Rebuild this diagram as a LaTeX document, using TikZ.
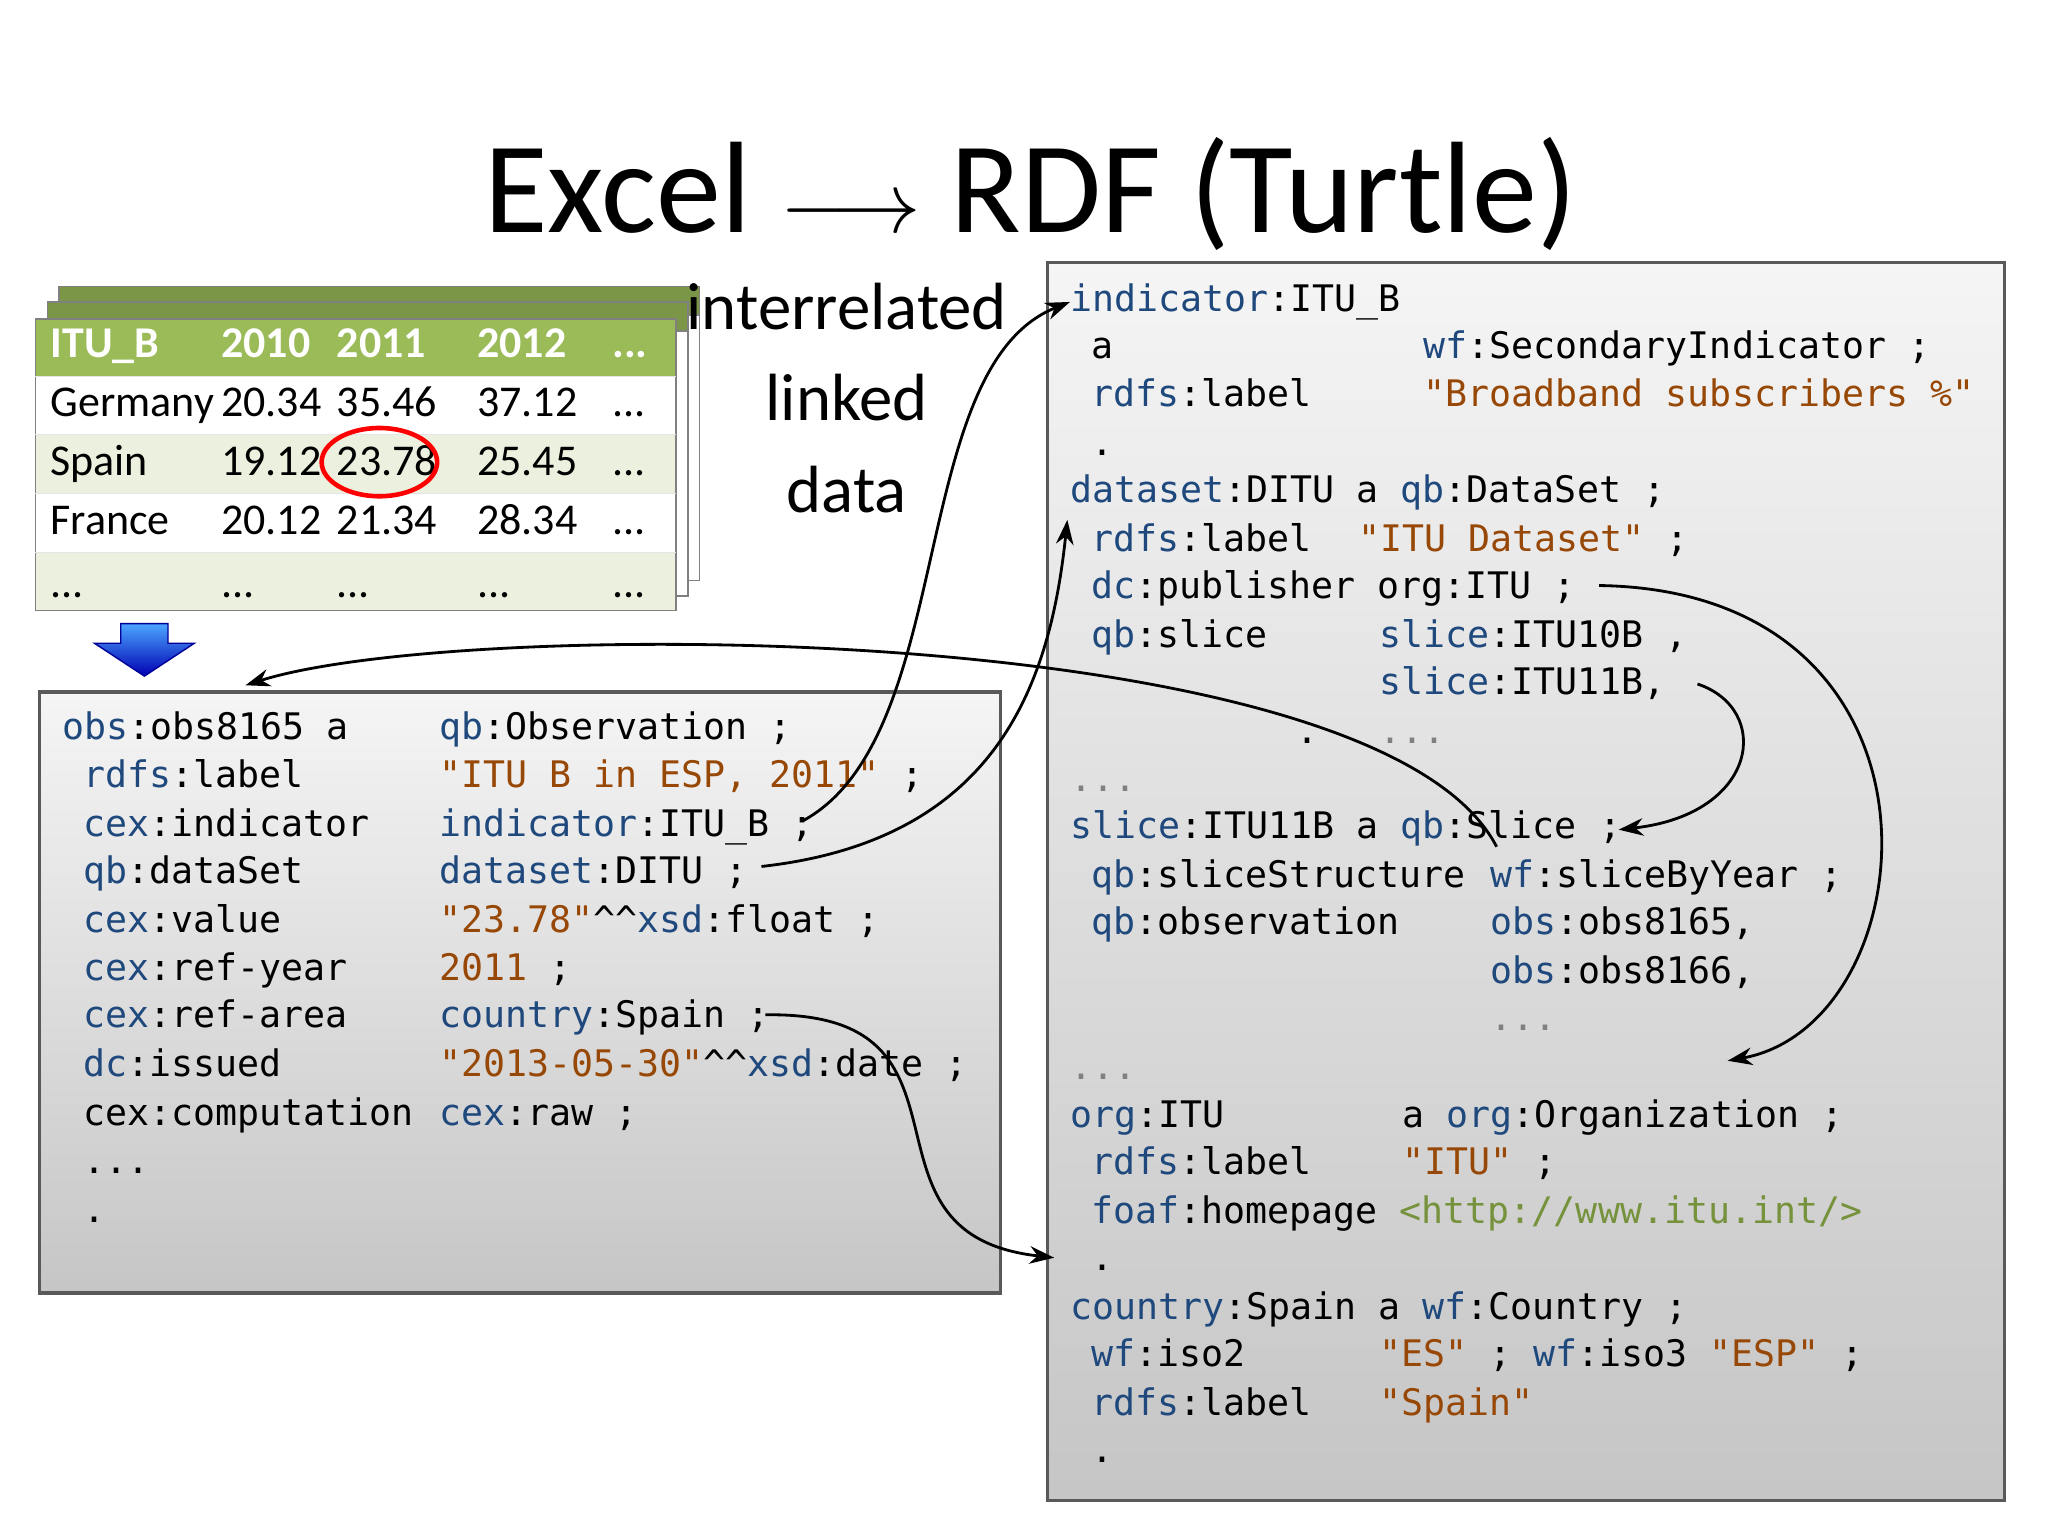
\documentclass[tikz,border=0pt]{standalone}
\usepackage{fontspec}
\setmainfont{Carlito}
\setmonofont{DejaVu Sans Mono}
\usetikzlibrary{arrows.meta}
\definecolor{pfx}{RGB}{31,73,125}
\definecolor{str}{RGB}{152,72,6}
\definecolor{url}{RGB}{118,146,60}
\definecolor{hdr}{RGB}{155,187,89}
\definecolor{rowg}{RGB}{235,241,222}
\tikzset{
 cd/.style={anchor=base west,inner sep=0pt,font=\fontsize{10.4pt}{12pt}\ttfamily},
 tb/.style={anchor=base west,inner sep=0pt,font=\fontsize{12.5pt}{14pt}\selectfont},
 th/.style={tb,text=white,font=\fontsize{12.5pt}{14pt}\bfseries},
 codebox/.style={draw=gray!70!black,line width=1pt,top color=gray!8,bottom color=gray!45},
 link/.style={-{Stealth[length=7pt,width=5pt]},line width=0.8pt}
}
\newcommand{\p}[1]{\textcolor{pfx}{#1}}
\newcommand{\s}[1]{\textcolor{str}{#1}}
\newcommand{\dd}{...}
\begin{document}
\begin{tikzpicture}[x=0.013128cm,y=-0.013128cm]
\useasboundingbox (0,0) rectangle (1560,1170);
% title
\node[font=\fontsize{37pt}{40pt}\selectfont] (title) at (785,148) {Excel $\longrightarrow$ RDF (Turtle)};
% table sheets
\fill[hdr!80!black,draw=gray] (45,218) rectangle (533,442);
\fill[white,draw=gray] (45,240) rectangle (533,442);
\fill[hdr!80!black,draw=gray] (36,230) rectangle (524,454);
\fill[white,draw=gray] (36,252) rectangle (524,454);
\draw[gray,fill=white] (27,243) rectangle (515,465);
\fill[hdr] (27,243) rectangle (515,287);
\fill[rowg] (27,331) rectangle (515,376);
\fill[rowg] (27,421) rectangle (515,465);
\draw[gray] (27,243) rectangle (515,465);
\foreach \y in {287,331,376,421} \draw[white!80!gray] (27,\y) -- (515,\y);
\node[th] at (38,272) {ITU\_B};
\node[th] at (168,272) {2010};
\node[th] at (256,272) {2011};
\node[th] at (363,272) {2012};
\node[th] at (466,272) {\dd};
\foreach \y/\cn/\va/\vb/\vc in {317/Germany/20.34/35.46/37.12,362/Spain/19.12/23.78/25.45,407/France/20.12/21.34/28.34,455/\dd/\dd/\dd/\dd}{
 \node[tb] at (38,\y) {\cn};\node[tb] at (168,\y) {\va};\node[tb] at (256,\y) {\vb};\node[tb] at (363,\y) {\vc};\node[tb] at (466,\y) {\dd};}
\draw[red,line width=1.3pt] (289,352) ellipse (44 and 26);
% blue arrow
\shade[top color=blue!50!cyan!70,bottom color=blue!70!black,draw=blue!60!black]
 (92,475) -- (128,475) -- (128,490) -- (148,490) -- (110,515) -- (72,490) -- (92,490) -- cycle;
% interrelated linked data
\node[font=\fontsize{19pt}{24pt}\selectfont,align=center] (ild) at (645,303) {interrelated\\[2pt]linked\\[2pt]data};
% boxes
\draw[codebox] (30,527) rectangle (762,985);
\draw[codebox] (798,200) rectangle (1527,1143);
% left code
\node[cd] (obs) at (47,563) {\p{obs}:obs8165 a};
\node[cd] at (334,563) {\p{qb}:Observation ;};
\node[cd] at (63,600) {\p{rdfs}:label};
\node[cd] at (334,600) {\s{"ITU B in ESP, 2011"} ;};
\node[cd] at (63,637) {\p{cex}:indicator};
\node[cd] (lind) at (334,637) {\p{indicator}:ITU\_B ;};
\node[cd] at (63,673) {\p{qb}:dataSet};
\node[cd] (lds) at (334,673) {\p{dataset}:DITU ;};
\node[cd] at (63,710) {\p{cex}:value};
\node[cd] at (334,710) {\s{"23.78"}\^{}\^{}\p{xsd}:float ;};
\node[cd] at (63,747) {\p{cex}:ref-year};
\node[cd] at (334,747) {\s{2011} ;};
\node[cd] at (63,783) {\p{cex}:ref-area};
\node[cd] (lcty) at (334,783) {\p{country}:Spain ;};
\node[cd] at (63,820) {\p{dc}:issued};
\node[cd] at (334,820) {\s{"2013-05-30"}\^{}\^{}\p{xsd}:date ;};
\node[cd] at (63,857) {cex:computation};
\node[cd] at (334,857) {\p{cex}:raw ;};
\node[cd] at (63,894) {\dd};
\node[cd] at (63,931) {.};
% right code
\node[cd] (rind) at (815,237) {\p{indicator}:ITU\_B};
\node[cd] at (831,273) {a};
\node[cd] at (1084,273) {\p{wf}:SecondaryIndicator ;};
\node[cd] at (831,310) {\p{rdfs}:label};
\node[cd] at (1084,310) {\s{"Broadband subscribers \%"}};
\node[cd] at (831,347) {.};
\node[cd] (rds) at (815,383) {\p{dataset}:DITU a \p{qb}:DataSet ;};
\node[cd] at (831,420) {\p{rdfs}:label};
\node[cd] at (1034,420) {\s{"ITU Dataset"} ;};
\node[cd] (rpub) at (831,456) {\p{dc}:publisher org:ITU ;};
\node[cd] at (831,493) {\p{qb}:slice};
\node[cd] at (1050,493) {\p{slice}:ITU10B ,};
\node[cd] (r11) at (1050,529) {\p{slice}:ITU11B,};
\node[cd] at (987,566) {.};
\node[cd] at (1050,566) {\textcolor{gray}{\dd}};
\node[cd] at (815,603) {\textcolor{gray}{\dd}};
\node[cd] (rsl) at (815,639) {\p{slice}:ITU11B a \p{qb}:Slice ;};
\node[cd] at (831,676) {\p{qb}:sliceStructure};
\node[cd] at (1135,676) {\p{wf}:sliceByYear ;};
\node[cd] at (831,712) {\p{qb}:observation};
\node[cd] at (1135,712) {\p{obs}:obs8165,};
\node[cd] at (1135,749) {\p{obs}:obs8166,};
\node[cd] at (1135,785) {\textcolor{gray}{\dd}};
\node[cd] at (815,822) {\textcolor{gray}{\dd}};
\node[cd] (rorg) at (815,859) {\p{org}:ITU};
\node[cd] at (1068,859) {a \p{org}:Organization ;};
\node[cd] at (831,895) {\p{rdfs}:label};
\node[cd] at (1068,895) {\s{"ITU"} ;};
\node[cd] at (831,932) {\p{foaf}:homepage \textcolor{url}{<http://www.itu.int/>}};
\node[cd] at (831,968) {.};
\node[cd] (rcty) at (815,1005) {\p{country}:Spain a \p{wf}:Country ;};
\node[cd] at (831,1041) {\p{wf}:iso2};
\node[cd] at (1050,1041) {\s{"ES"} ; \p{wf}:iso3 \s{"ESP"} ;};
\node[cd] at (831,1078) {\p{rdfs}:label};
\node[cd] at (1050,1078) {\s{"Spain"}};
\node[cd] at (831,1114) {.};
% coordinates
\coordinate (a1) at (612,625);
\coordinate (a2) at (580,660);
\coordinate (a3) at (1140,645);
\coordinate (a4) at (1293,521);
\coordinate (a5) at (1218,446);
\coordinate (a6) at (583,773);
\coordinate (e1) at (815,230);
\coordinate (e2) at (813,396);
\coordinate (e3) at (187,522);
\coordinate (e4) at (1233,632);
\coordinate (e5) at (1316,808);
\coordinate (e6) at (803,958);
% links
\draw[link] (a1) .. controls (730,560) and (690,280) .. (e1);
\draw[link] (a2) .. controls (760,640) and (800,520) .. (e2);
\draw[link] (a3) .. controls (1050,470) and (350,470) .. (e3);
\draw[link] (a4) .. controls (1350,540) and (1340,620) .. (e4);
\draw[link] (a5) .. controls (1500,450) and (1470,780) .. (e5);
\draw[link] (a6) .. controls (760,770) and (640,940) .. (e6);
\end{tikzpicture}
\end{document}
